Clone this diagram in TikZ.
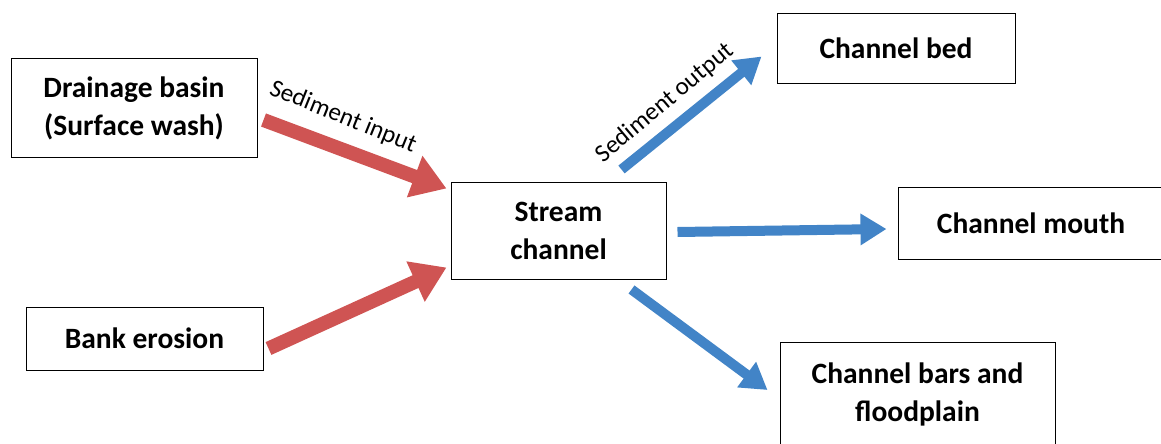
\documentclass[tikz,border=0pt]{standalone}
\usepackage{fontspec}
\setmainfont{Carlito}
\usepackage{tikz}
\usetikzlibrary{arrows.meta, positioning, calc}

\definecolor{inred}{RGB}{207,84,83}
\definecolor{outblue}{RGB}{66,132,199}

\tikzset{
  box/.style = {draw, line width=1pt, align=center, inner sep=0pt,
    font=\bfseries\fontsize{29.5}{38}\selectfont},
  flowlabel/.style = {inner sep=0pt, font=\fontsize{25}{28}\selectfont},
  inflow/.style = {draw=inred, line width=14pt,
    -{Triangle[width=42pt,length=34pt]}},
  outflow/.style = {draw=outblue, line width=10pt,
    -{Triangle[width=30pt,length=26pt]}}
}

\begin{document}
\begin{tikzpicture}[x=1pt, y=-1pt]
  \useasboundingbox (0,0) rectangle (1161,444);

  % sources
  \node[box, minimum width=246pt, minimum height=98pt] (drain) at (134,108) {Drainage basin\\(Surface wash)};
  \node[box, minimum width=237pt, minimum height=63pt] (bank) at (144.5,338.5) {Bank erosion};

  % centre
  \node[box, minimum width=215pt, minimum height=97pt] (stream) at (558.5,230.5) {Stream\\channel};

  % sinks
  \node[box, minimum width=238pt, minimum height=69pt] (bed) at (896,48.5) {Channel bed};
  \node[box, minimum width=266pt, minimum height=72pt] (mouth) at (1031,223) {Channel mouth};
  \node[box, minimum width=275pt, minimum height=104pt] (bars) at (917.5,394) {Channel bars and\\floodplain};

  % arrows in
  \draw[inflow] ([shift={(6,12)}]drain.east) -- ([shift={(-4,-42)}]stream.west);
  \draw[inflow] ([shift={(5,10)}]bank.east) -- ([shift={(-4,37)}]stream.west);

  % arrows out
  \draw[outflow] ([shift={(63,-12)}]stream.north) -- ([shift={(-15,8)}]bed.west);
  \draw[outflow] ([shift={(11,1.5)}]stream.east) -- ([shift={(-11,6)}]mouth.west);
  \draw[outflow] ([shift={(73,10)}]stream.south) -- ([shift={(-12,-4)}]bars.west);

  \node[flowlabel, rotate=-22] (inlabel) at (343,117) {Sediment input};
  \node[flowlabel, rotate=40] (outlabel) at (665,103) {Sediment output};
\end{tikzpicture}
\end{document}
